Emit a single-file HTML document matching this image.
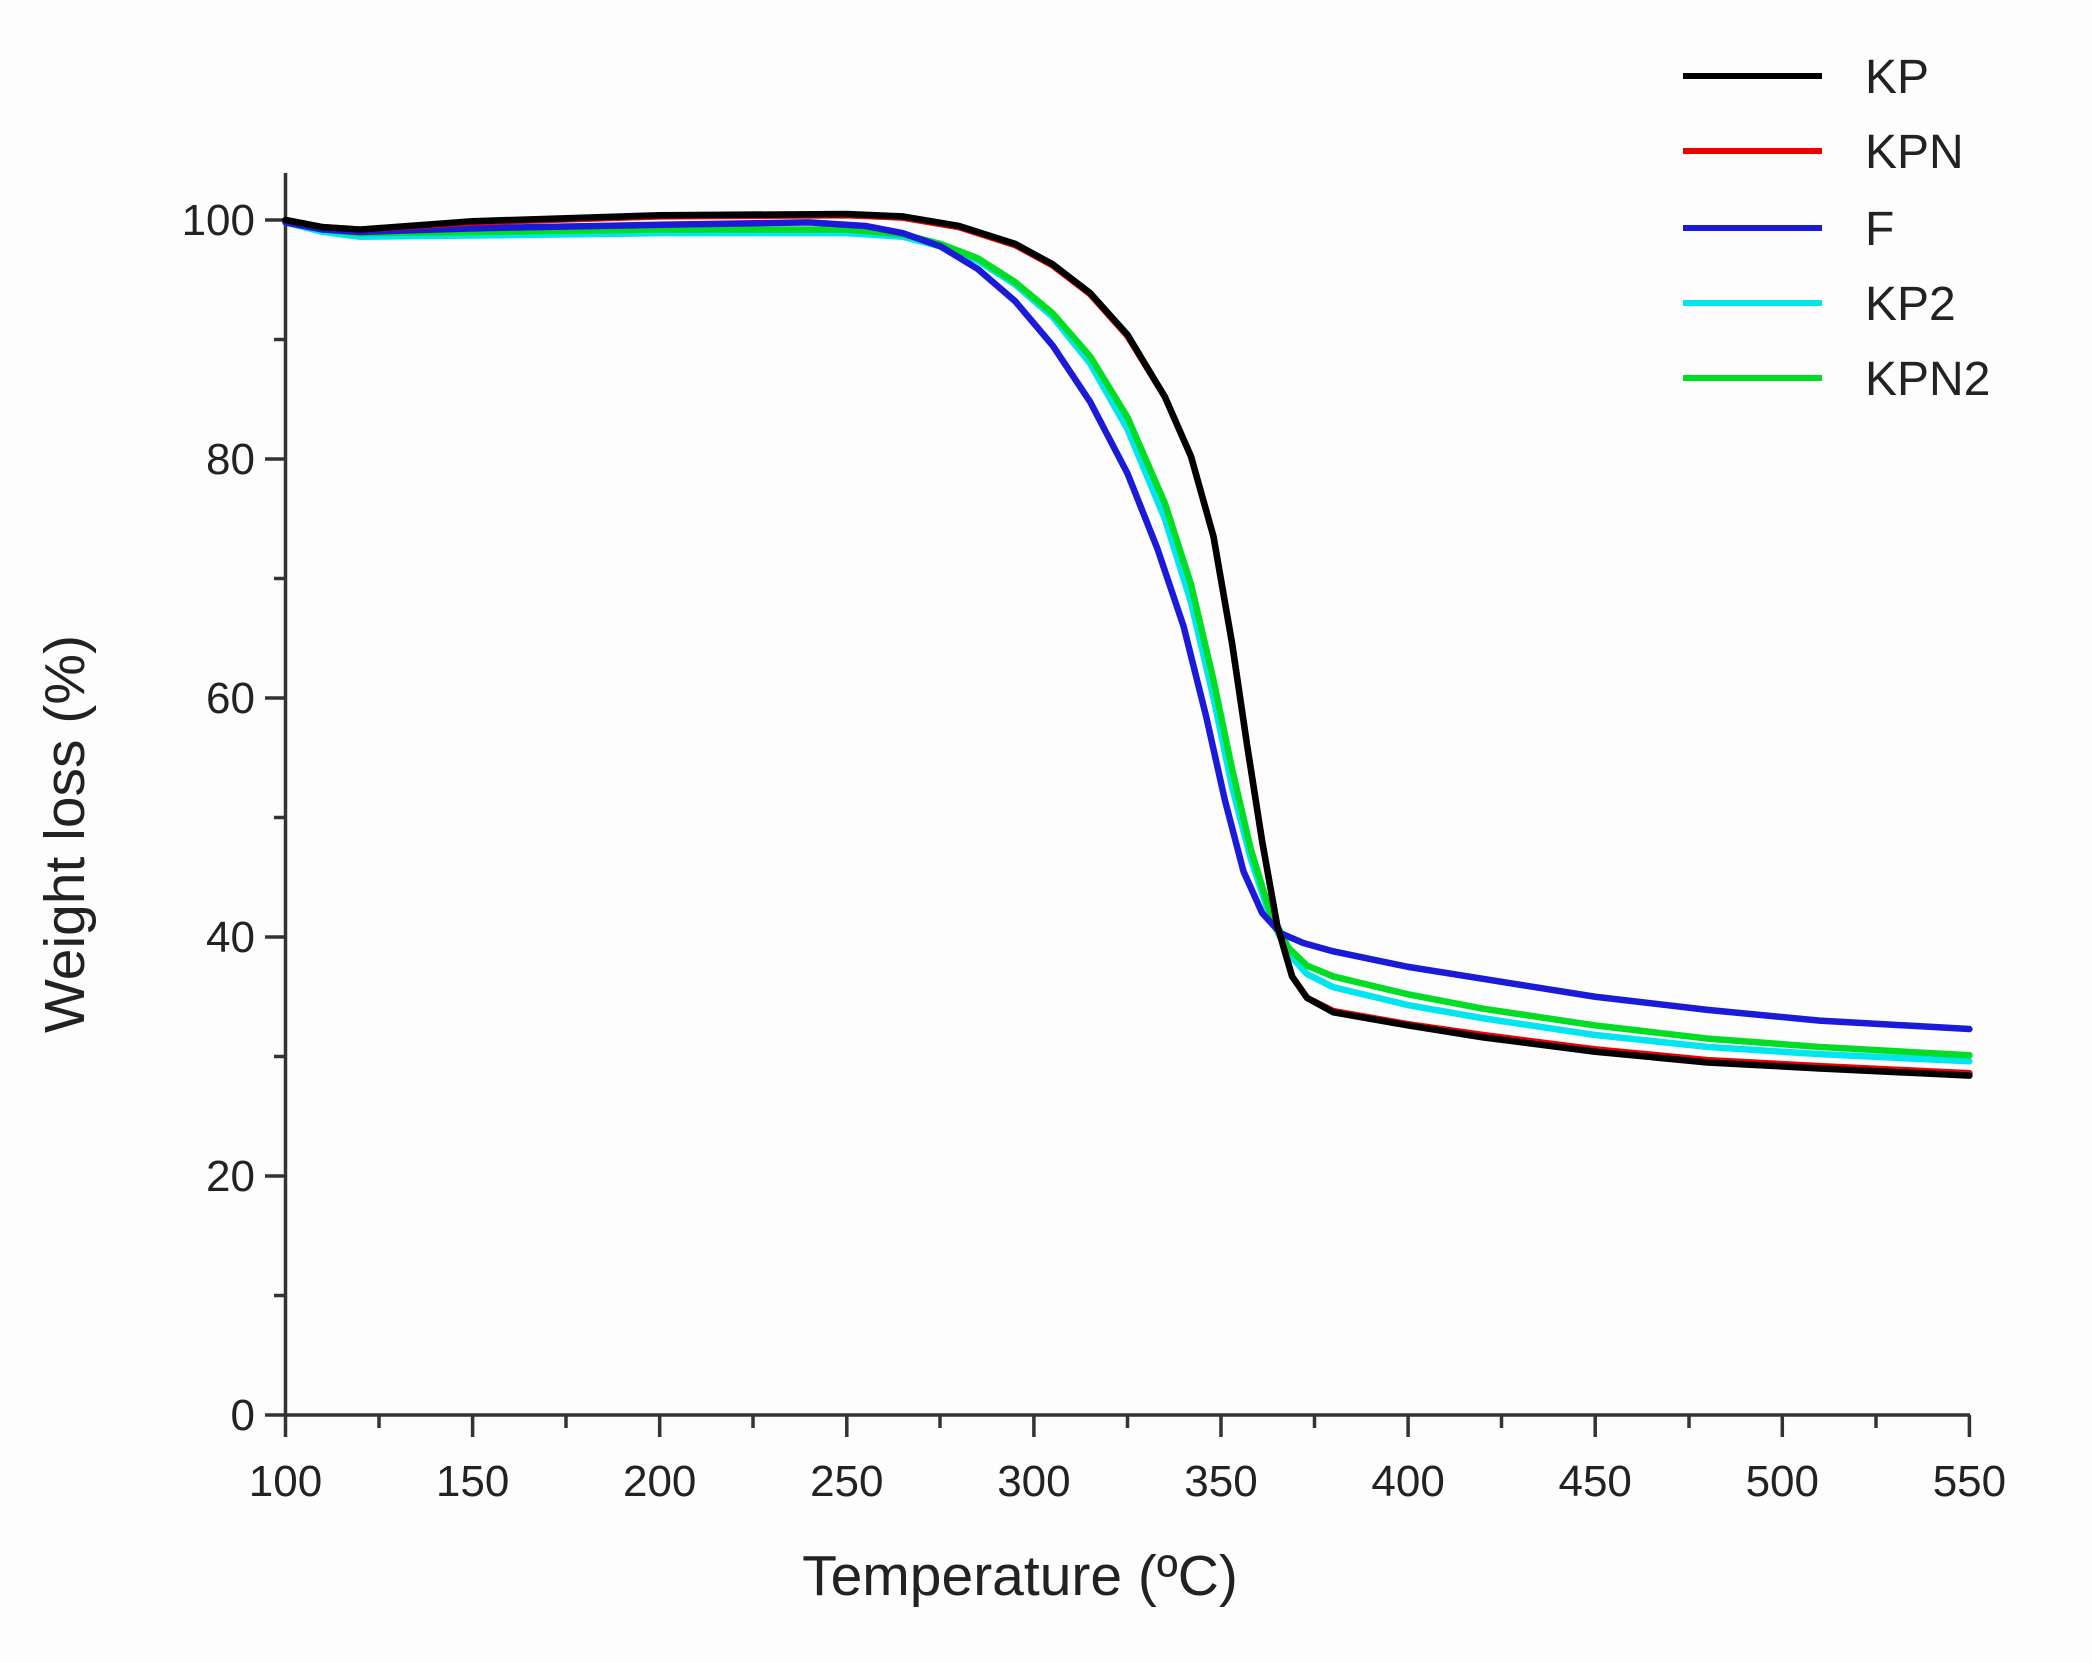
<!DOCTYPE html>
<html><head><meta charset="utf-8"><style>
html,body{margin:0;padding:0;background:#fff}
svg{display:block}
text{font-family:"Liberation Sans",sans-serif;fill:#222}
</style></head><body>
<svg width="2092" height="1663" viewBox="0 0 2092 1663" xmlns="http://www.w3.org/2000/svg">
<rect width="2092" height="1663" fill="#fdfdfd"/>
<g stroke="#333" stroke-width="3.5" fill="none">
<line x1="285.5" y1="173" x2="285.5" y2="1417"/>
<line x1="284" y1="1415" x2="1970" y2="1415"/>
<path d="M265 220H285M265 459H285M265 698H285M265 937H285M265 1176H285M265 1415H285"/>
<path d="M274 339.5H285M274 578.5H285M274 817.5H285M274 1056.5H285M274 1295.5H285"/>
<path d="M285.5 1415v22M472.6 1415v22M659.7 1415v22M846.8 1415v22M1033.9 1415v22M1221 1415v22M1408.1 1415v22M1595.2 1415v22M1782.3 1415v22M1969.4 1415v22"/>
<path d="M379 1415v13M566 1415v13M753 1415v13M940 1415v13M1127.5 1415v13M1314.5 1415v13M1501.5 1415v13M1689 1415v13M1876 1415v13"/>
</g>
<g font-size="44" text-anchor="end">
<text x="255" y="235">100</text>
<text x="255" y="474">80</text>
<text x="255" y="713">60</text>
<text x="255" y="952">40</text>
<text x="255" y="1191">20</text>
<text x="255" y="1430">0</text>
</g>
<g font-size="44" text-anchor="middle">
<text x="285.5" y="1496">100</text><text x="472.6" y="1496">150</text><text x="659.7" y="1496">200</text>
<text x="846.8" y="1496">250</text><text x="1033.9" y="1496">300</text><text x="1221" y="1496">350</text>
<text x="1408.1" y="1496">400</text><text x="1595.2" y="1496">450</text><text x="1782.3" y="1496">500</text>
<text x="1969.4" y="1496">550</text>
</g>
<text x="1020" y="1595" font-size="57" text-anchor="middle">Temperature (ºC)</text>
<text transform="translate(84,834) rotate(-90)" font-size="57" text-anchor="middle">Weight loss (%)</text>
<g transform="matrix(3.742 0 0 -11.95 -88.7 1415)" fill="none" stroke-linejoin="round" stroke-linecap="round">
<polyline vector-effect="non-scaling-stroke" stroke-width="6.5" stroke="#00e5ee" points="100,99.8 110,99 120,98.6 150,98.7 200,98.9 250,98.9 265,98.6 275,97.8 285,96.6 295,94.6 305,91.9 315,88 325,82.5 335,75 342,68 348,60 353,52.5 358,46.5 363,41.8 368,38.6 373,36.9 380,35.8 400,34.3 420,33.2 450,31.8 480,30.8 510,30.2 550,29.6"/>
<polyline vector-effect="non-scaling-stroke" stroke-width="6.5" stroke="#00dd22" points="100,99.8 110,99.2 120,98.9 150,99 200,99.2 250,99.2 265,98.8 275,98 285,96.8 295,94.8 305,92.2 315,88.6 325,83.5 335,76.3 342,69.5 348,61.5 353,54 358,47.3 363,42.2 368,39.1 373,37.6 380,36.7 400,35.2 420,34 450,32.6 480,31.5 510,30.8 550,30.1"/>
<polyline vector-effect="non-scaling-stroke" stroke-width="6.5" stroke="#1a1ad8" points="100,99.8 110,99.2 120,99 150,99.3 200,99.6 240,99.8 255,99.5 265,98.9 275,97.8 285,95.9 295,93.2 305,89.5 315,84.8 325,78.8 333,72.5 340,66 346,58.5 351,51.5 356,45.5 361,42 366,40.3 372,39.5 380,38.8 400,37.5 420,36.5 450,35 480,33.9 510,33 550,32.3"/>
<polyline vector-effect="non-scaling-stroke" stroke-width="6.5" stroke="#ee0000" points="100,100 110,99.4 120,99.2 150,99.8 200,100.3 250,100.4 265,100.2 280,99.4 295,97.9 305,96.2 315,93.8 325,90.3 335,85.2 342,80.2 348,73.5 353,64.5 357,56 361,48 365,41 369,36.7 373,34.9 380,33.8 400,32.7 420,31.8 450,30.6 480,29.7 510,29.2 550,28.6"/>
<polyline vector-effect="non-scaling-stroke" stroke-width="6.5" stroke="#000" points="100,100 110,99.4 120,99.2 150,99.9 200,100.4 250,100.5 265,100.3 280,99.5 295,98 305,96.3 315,93.9 325,90.4 335,85.2 342,80.2 348,73.5 353,64.5 357,56 361,48 365,41 369,36.7 373,34.9 380,33.7 400,32.6 420,31.6 450,30.4 480,29.5 510,29 550,28.4"/>
</g>
<g stroke-width="6">
<line x1="1683" y1="76" x2="1822" y2="76" stroke="#000"/>
<line x1="1683" y1="151" x2="1822" y2="151" stroke="#ee0000"/>
<line x1="1683" y1="228" x2="1822" y2="228" stroke="#1a1ad8"/>
<line x1="1683" y1="303" x2="1822" y2="303" stroke="#00e5ee"/>
<line x1="1683" y1="378" x2="1822" y2="378" stroke="#00dd22"/>
</g>
<g font-size="48">
<text x="1865" y="93">KP</text>
<text x="1865" y="168">KPN</text>
<text x="1865" y="245">F</text>
<text x="1865" y="320">KP2</text>
<text x="1865" y="395">KPN2</text>
</g>
</svg>
</body></html>
